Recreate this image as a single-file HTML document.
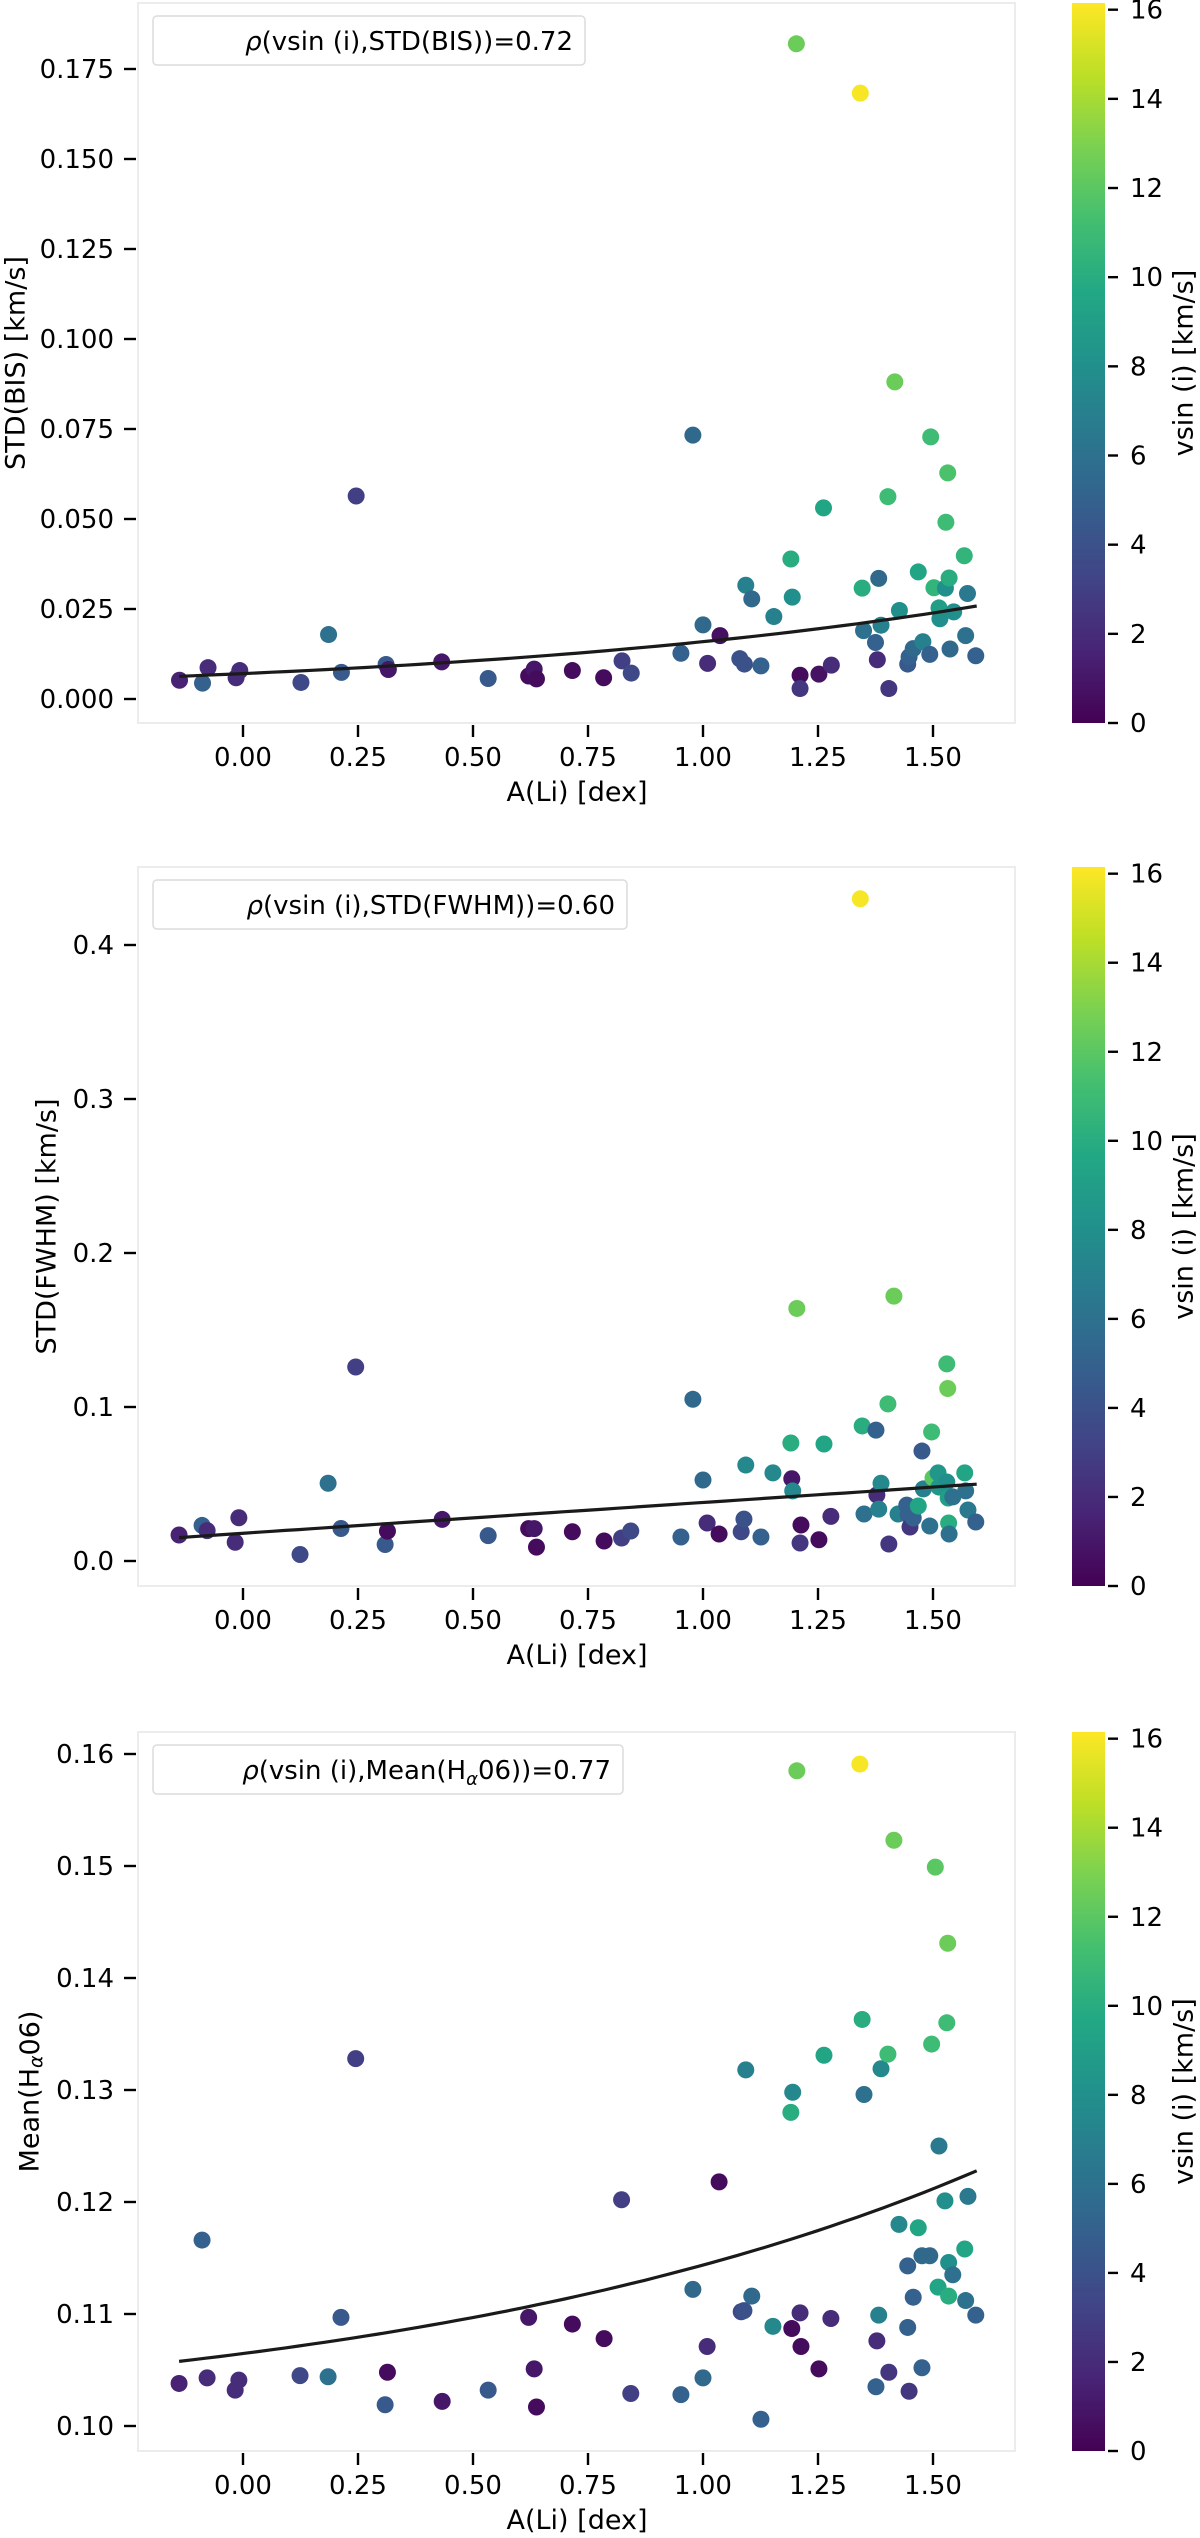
<!DOCTYPE html>
<html><head><meta charset="utf-8"><title>A(Li) scatter panels</title>
<style>
html,body{margin:0;padding:0;background:#fff;}
svg{display:block;font-family:"DejaVu Sans","Liberation Sans",sans-serif;}
</style></head>
<body>
<svg id="chart" width="1200" height="2538" viewBox="0 0 1200 2538" xmlns="http://www.w3.org/2000/svg">
<defs>
<linearGradient id="vir" x1="0" y1="1" x2="0" y2="0">
<stop offset="0" stop-color="#440154"/><stop offset="0.1" stop-color="#482475"/><stop offset="0.2" stop-color="#414487"/><stop offset="0.3" stop-color="#355f8d"/><stop offset="0.4" stop-color="#2a788e"/><stop offset="0.5" stop-color="#21918c"/><stop offset="0.6" stop-color="#22a884"/><stop offset="0.7" stop-color="#44bf70"/><stop offset="0.8" stop-color="#7ad151"/><stop offset="0.9" stop-color="#bddf26"/><stop offset="1" stop-color="#fde725"/>
</linearGradient>
</defs>
</svg>
<script>
// ---- shared axis data ----
const xTicks = [0, 0.25, 0.5, 0.75, 1.0, 1.25, 1.5];
const xTickLabels = ["0.00","0.25","0.50","0.75","1.00","1.25","1.50"];
const cbTicks = [0,2,4,6,8,10,12,14,16];

// ---- panel 1: STD(BIS) ----
const p1X = [-0.138,-0.088,-0.076,-0.015,-0.007,0.126,0.186,0.214,0.246,0.311,0.316,0.432,0.533,0.621,0.633,0.638,0.716,0.784,0.824,0.844,0.952,0.978,1.0,1.01,1.037,1.08,1.09,1.093,1.106,1.126,1.154,1.191,1.194,1.203,1.211,1.211,1.252,1.262,1.279,1.342,1.346,1.349,1.375,1.379,1.382,1.387,1.402,1.404,1.417,1.427,1.445,1.448,1.457,1.468,1.478,1.493,1.495,1.502,1.513,1.515,1.527,1.528,1.532,1.535,1.537,1.545,1.568,1.571,1.575,1.593];
const p1Y = [0.0052,0.0044,0.0087,0.0059,0.0079,0.0046,0.0179,0.0074,0.0564,0.0096,0.0082,0.0103,0.0057,0.0064,0.0083,0.0056,0.0079,0.0059,0.0106,0.0072,0.0127,0.0733,0.0206,0.0099,0.0176,0.0112,0.0097,0.0316,0.0278,0.0092,0.0229,0.0389,0.0283,0.182,0.0066,0.0029,0.0069,0.0531,0.0094,0.1683,0.0308,0.019,0.0157,0.0109,0.0335,0.0205,0.0562,0.0029,0.0881,0.0246,0.0097,0.0117,0.014,0.0353,0.0159,0.0124,0.0728,0.0309,0.0253,0.0223,0.0308,0.0491,0.0628,0.0336,0.0139,0.0242,0.0398,0.0176,0.0293,0.012];
const p1C = [1.5,5,2,2,2,3.5,6,4.5,3,4.5,1,1,4.5,0.5,1,0.5,0.5,0.5,3,3.5,5,5.5,5.5,2,0.7,4,4,7,5.5,5,7,10,8,12.5,0.5,2.5,0.8,9.5,2,16,10,6,5,2,5.5,7,11,2.5,12.5,8,4.5,5,5.5,9.5,7,5,11,10.5,9,8,8,11,11.5,10,5.5,8,10.5,6,6.5,5];
const p1YTicks = [0,0.025,0.05,0.075,0.1,0.125,0.15,0.175];
const p1YTickLabels = ["0.000","0.025","0.050","0.075","0.100","0.125","0.150","0.175"];

// ---- panel 2: STD(FWHM) ----
const p2X = [-0.139,-0.089,-0.078,-0.009,-0.017,0.124,0.185,0.213,0.245,0.309,0.314,0.433,0.533,0.621,0.633,0.638,0.716,0.785,0.823,0.843,0.952,0.978,1.0,1.009,1.035,1.083,1.089,1.093,1.126,1.152,1.191,1.193,1.195,1.204,1.213,1.211,1.252,1.263,1.278,1.342,1.346,1.35,1.376,1.378,1.382,1.387,1.402,1.404,1.415,1.424,1.443,1.446,1.45,1.457,1.468,1.476,1.479,1.493,1.497,1.5,1.511,1.513,1.53,1.532,1.53,1.533,1.534,1.535,1.543,1.569,1.571,1.576,1.593];
const p2Y = [0.0169,0.0231,0.0197,0.0281,0.0122,0.0042,0.0505,0.0211,0.126,0.0107,0.0194,0.027,0.0165,0.021,0.021,0.009,0.019,0.013,0.0149,0.0195,0.0156,0.105,0.0526,0.0247,0.0175,0.019,0.0272,0.0623,0.0156,0.0572,0.0766,0.0534,0.0455,0.164,0.0234,0.0117,0.0138,0.076,0.029,0.43,0.0877,0.0305,0.085,0.0429,0.0337,0.0505,0.102,0.011,0.172,0.0305,0.0363,0.0299,0.0221,0.0279,0.0357,0.0714,0.0468,0.0227,0.0838,0.0539,0.0572,0.048,0.128,0.112,0.0513,0.0409,0.0247,0.0175,0.0416,0.0572,0.0455,0.0331,0.0253];
const p2C = [1.5,5,2,2,2,3.5,6,4.5,3,4.5,0.5,1,4.5,0.5,1,0.5,0.5,0.5,3,3.5,5,5.5,5.5,2,0.5,3.5,4,7.5,5,7.5,10,1,7.5,12.5,0.5,2.5,0.5,9.5,2,16,10,6,5,2,7,7.5,11,2.5,12.5,7,5,5,2.5,5,9.5,4.5,7,6,11,12,8.5,8.5,11,12.5,8,9,10,6,6,9.5,6,6.5,5];
const p2YTicks = [0,0.1,0.2,0.3,0.4];
const p2YTickLabels = ["0.0","0.1","0.2","0.3","0.4"];

// ---- panel 3: Mean(Halpha06) ----
const p3X = [-0.139,-0.089,-0.078,-0.009,-0.017,0.124,0.185,0.213,0.245,0.309,0.314,0.433,0.533,0.621,0.633,0.638,0.716,0.785,0.823,0.843,0.952,0.978,1.0,1.009,1.035,1.083,1.089,1.093,1.106,1.126,1.152,1.191,1.193,1.195,1.204,1.211,1.213,1.252,1.263,1.278,1.341,1.346,1.35,1.376,1.378,1.382,1.387,1.402,1.404,1.415,1.426,1.445,1.445,1.448,1.457,1.468,1.476,1.476,1.493,1.497,1.505,1.511,1.513,1.526,1.53,1.532,1.534,1.534,1.543,1.569,1.571,1.576,1.593];
const p3Y = [0.1038,0.1166,0.1043,0.1041,0.1032,0.1045,0.1044,0.1097,0.1328,0.1019,0.1048,0.1022,0.1032,0.1097,0.1051,0.1017,0.1091,0.1078,0.1202,0.1029,0.1028,0.1122,0.1043,0.1071,0.1218,0.1102,0.1103,0.1318,0.1116,0.1006,0.1089,0.128,0.1087,0.1298,0.1585,0.1101,0.1071,0.1051,0.1331,0.1096,0.1591,0.1363,0.1296,0.1035,0.1076,0.1099,0.1319,0.1332,0.1048,0.1523,0.118,0.1143,0.1088,0.1031,0.1115,0.1177,0.1052,0.1152,0.1152,0.1341,0.1499,0.1124,0.125,0.1201,0.136,0.1431,0.1146,0.1116,0.1135,0.1158,0.1112,0.1205,0.1099];
const p3C = [1.5,5,2,2,2,3.5,6,4.5,3,4.5,0.5,1,4.5,1,1,0.5,0.5,0.5,3,3,5,5.5,5.5,2,0.5,3.5,4,7,5.5,5,7.5,10,0.5,7.5,12.5,2,0.5,0.5,9.5,2,16,10,6,5,2,7,7.5,11,2.5,12.5,7.5,5,5,2.5,5,9.5,5,5.5,5.5,11,12,9.5,6.5,8,11,12.5,8,10,6,9.5,6,6.5,5];
const p3YTicks = [0.10,0.11,0.12,0.13,0.14,0.15,0.16];
const p3YTickLabels = ["0.10","0.11","0.12","0.13","0.14","0.15","0.16"];

// fit curve parameters y = c + a*exp(b*x)
const fitC = [0, 0.0180, 0.0994];
const fitA = [0.00706, 0.0200, 0.00707];
const fitB = [0.813, 0, 0.75];
const fitLinear = [false, true, false];

const NS = "http://www.w3.org/2000/svg";
const svg = document.getElementById("chart");
function mk(tag, attrs, parent){const e=document.createElementNS(NS,tag);for(const k in attrs)e.setAttribute(k,attrs[k]);(parent||svg).appendChild(e);return e;}

const VIR = ["#440154","#482475","#414487","#355f8d","#2a788e","#21918c","#22a884","#44bf70","#7ad151","#bddf26","#fde725"];
function hx(h){return [1,3,5].map(i=>parseInt(h.substr(i,2),16));}
function viridis(t){t=Math.max(0,Math.min(1,t));const s=t*10,i=Math.min(9,Math.floor(s)),f=s-i;const a=hx(VIR[i]),b=hx(VIR[i+1]);return "rgb("+a.map((v,k)=>Math.round(v+(b[k]-v)*f)).join(",")+")";}

const X0=138, X1=1015;
const xScale = v => 243 + 460*v;
const CBMAX = 16.15;

const panels = [
 {name:"bis", top:3, bot:723, yS:v=>699-v*3600, X:p1X, Y:p1Y, C:p1C, yt:p1YTicks, ytl:p1YTickLabels, ylab:"STD(BIS) [km/s]", ylx:16, legW:432, leg:"STD(BIS))=0.72"},
 {name:"fwhm", top:867, bot:1586, yS:v=>1561-v*1540, X:p2X, Y:p2Y, C:p2C, yt:p2YTicks, ytl:p2YTickLabels, ylab:"STD(FWHM) [km/s]", ylx:47, legW:474, leg:"STD(FWHM))=0.60"},
 {name:"halpha", top:1732, bot:2451, yS:v=>2426-(v-0.10)*11200, X:p3X, Y:p3Y, C:p3C, yt:p3YTicks, ytl:p3YTickLabels, ylab:null, ylx:30, legW:470, leg:null}
];

panels.forEach((p,pi)=>{
  const g = mk("g",{});
  
  
  const fr = mk("rect",{x:X0,y:p.top,width:X1-X0,height:p.bot-p.top,fill:"#fff",stroke:"#ececec","stroke-width":2},g);
  
  
  // y ticks
  p.yt.forEach((v,i)=>{
    const y=p.yS(v);
    mk("line",{x1:124,x2:136,y1:y,y2:y,stroke:"#000","stroke-width":2.4},g);
    const t=mk("text",{x:114,y:y+9,"text-anchor":"end","font-size":26},g);
    t.textContent=p.ytl[i];
    
    
  });
  // x ticks
  xTicks.forEach((v,i)=>{
    const x=xScale(v);
    mk("line",{x1:x,x2:x,y1:p.bot+2,y2:p.bot+14,stroke:"#000","stroke-width":2.4},g);
    const t=mk("text",{x:x,y:p.bot+43,"text-anchor":"middle","font-size":26},g);
    t.textContent=xTickLabels[i];
    
    
  });
  const xl=mk("text",{x:577,y:p.bot+78,"text-anchor":"middle","font-size":27},g);
  xl.textContent="A(Li) [dex]";
  
  
  // y label
  const cy=(p.top+p.bot)/2;
  const yl=mk("text",{x:p.ylx,y:cy,"text-anchor":"middle","font-size":27,transform:`rotate(-90 ${p.ylx} ${cy})`,"dominant-baseline":"central"},g);
  if(p.ylab){yl.textContent=p.ylab;}
  else{
    yl.appendChild(document.createTextNode("Mean(H"));
    const s=mk("tspan",{"font-size":19,"font-style":"italic",dy:6},yl); s.textContent="α";
    const s2=mk("tspan",{dy:-6},yl); s2.textContent="06)";
  }
  
  
  // points
  p.X.forEach((xv,i)=>{
    const c=mk("circle",{cx:xScale(xv),cy:p.yS(p.Y[i]),r:8.5,fill:viridis(p.C[i]/CBMAX)},g);
    
    
  });
  // fit curve
  let d="";
  for(let k=0;k<=60;k++){
    const xv=-0.139+(1.595+0.139)*k/60;
    const yv=fitLinear[pi]? fitC[pi]+fitA[pi]*xv : fitC[pi]+fitA[pi]*Math.exp(fitB[pi]*xv);
    d+=(k?"L":"M")+xScale(xv).toFixed(1)+" "+p.yS(yv).toFixed(1);
  }
  const fl=mk("path",{d:d,fill:"none",stroke:"#1a1a1a","stroke-width":3.2},g);
  
  
  // legend
  const lg=mk("g",{},g);
  
  
  const ly=p.top+13;
  mk("rect",{x:153,y:ly,width:p.legW,height:49,rx:4,fill:"#fff",stroke:"#dcdcdc","stroke-width":1.5},lg);
  const lt=mk("text",{x:153+p.legW-12,y:ly+34,"text-anchor":"end","font-size":26},lg);
  const r=mk("tspan",{"font-style":"italic"},lt); r.textContent="ρ";
  const r2=mk("tspan",{},lt);
  if(p.leg){r2.textContent="(vsin (i),"+p.leg;}
  else{
    r2.textContent="(vsin (i),Mean(H";
    const a=mk("tspan",{"font-size":18,"font-style":"italic",dy:6},lt); a.textContent="α";
    const b=mk("tspan",{dy:-6},lt); b.textContent="06))=0.77";
  }
  
  
  // colorbar
  const cb=mk("g",{},g);
  
  
  mk("rect",{x:1072,y:p.top,width:33,height:p.bot-p.top,fill:"url(#vir)"},cb);
  const cbS=v=>p.bot-(v/CBMAX)*(p.bot-p.top);
  cbTicks.forEach(v=>{
    const y=cbS(v);
    mk("line",{x1:1108,x2:1118,y1:y,y2:y,stroke:"#000","stroke-width":2.4},cb);
    const t=mk("text",{x:1130,y:y+9,"font-size":26},cb);
    t.textContent=String(v);
    
    
  });
  const cl=mk("text",{x:1184,y:cy,"text-anchor":"middle","font-size":27,transform:`rotate(-90 1184 ${cy})`,"dominant-baseline":"central"},cb);
  cl.textContent="vsin (i) [km/s]";
  
  
});
</script>
</body></html>
